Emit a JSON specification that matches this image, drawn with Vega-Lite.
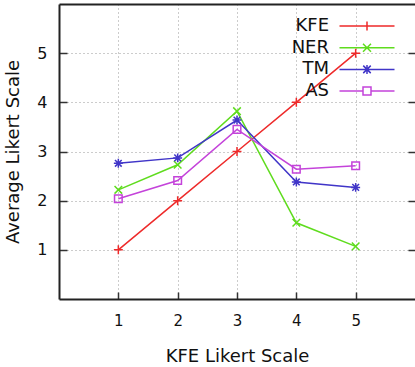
{
  "$schema": "https://vega.github.io/schema/vega-lite/v6.json",
  "width": 356,
  "height": 295,
  "autosize": {"type": "none"},
  "padding": {"left": 59, "top": 4, "right": 0, "bottom": 68},
  "background": "white",
  "config": {
    "view": {"stroke": null},
    "font": "DejaVu Sans",
    "axis": {"labelFont": "DejaVu Sans", "titleFont": "DejaVu Sans", "labelColor": "#111", "titleColor": "#111", "titleFontWeight": "normal"}
  },
  "data": {
    "values": [
      {"series": "KFE", "x": 1, "y": 1.0},
      {"series": "KFE", "x": 2, "y": 2.0},
      {"series": "KFE", "x": 3, "y": 3.0},
      {"series": "KFE", "x": 4, "y": 4.0},
      {"series": "KFE", "x": 5, "y": 5.0},
      {"series": "NER", "x": 1, "y": 2.22},
      {"series": "NER", "x": 2, "y": 2.73},
      {"series": "NER", "x": 3, "y": 3.82},
      {"series": "NER", "x": 4, "y": 1.55},
      {"series": "NER", "x": 5, "y": 1.07},
      {"series": "TM", "x": 1, "y": 2.76},
      {"series": "TM", "x": 2, "y": 2.87},
      {"series": "TM", "x": 3, "y": 3.64},
      {"series": "TM", "x": 4, "y": 2.38},
      {"series": "TM", "x": 5, "y": 2.27},
      {"series": "AS", "x": 1, "y": 2.04},
      {"series": "AS", "x": 2, "y": 2.41},
      {"series": "AS", "x": 3, "y": 3.45},
      {"series": "AS", "x": 4, "y": 2.64},
      {"series": "AS", "x": 5, "y": 2.71}
    ]
  },
  "resolve": {"axis": {"x": "independent", "y": "independent"}},
  "layer": [
    {
      "mark": {"type": "line", "strokeWidth": 1.5},
      "encoding": {
        "x": {
          "field": "x", "type": "quantitative",
          "scale": {"domain": [0, 6], "nice": false, "zero": false},
          "axis": {
            "orient": "bottom", "title": "KFE Likert Scale", "values": [1, 2, 3, 4, 5],
            "titleFontSize": 18, "titlePadding": 19,
            "labelFontSize": 15, "labelPadding": 21,
            "tickSize": -7, "tickWidth": 1.5, "tickColor": "#333",
            "domainColor": "#222", "domainWidth": 2,
            "grid": true, "gridDash": [1, 3], "gridColor": "#999", "gridWidth": 1
          }
        },
        "y": {
          "field": "y", "type": "quantitative",
          "scale": {"domain": [0, 6], "nice": false, "zero": false},
          "axis": {
            "orient": "left", "title": "Average Likert Scale", "values": [1, 2, 3, 4, 5],
            "titleFontSize": 18, "titlePadding": 14,
            "labelFontSize": 16, "labelPadding": 20,
            "tickSize": -8, "tickWidth": 1.5, "tickColor": "#333",
            "domainColor": "#222", "domainWidth": 2,
            "grid": true, "gridDash": [1, 3], "gridColor": "#999", "gridWidth": 1
          }
        },
        "color": {
          "field": "series", "type": "nominal",
          "scale": {"domain": ["KFE", "NER", "TM", "AS"], "range": ["#ee2a2a", "#5fdc1e", "#4035c8", "#c443da"]},
          "legend": {
            "title": null, "orient": "none", "legendX": 299, "legendY": 13,
            "direction": "vertical",
            "labelFont": "DejaVu Sans", "labelFontSize": 18, "labelColor": "#111",
            "labelAlign": "right", "labelOffset": -47, "labelLimit": 200,
            "symbolSize": 100, "symbolStrokeWidth": 1.5, "rowPadding": 3.7,
            "padding": 0,
            "encode": {
              "symbols": {
                "update": {
                  "fill": {"value": "transparent"},
                  "strokeWidth": {"value": 1.5},
                  "shape": {"signal": "datum.value === 'KFE' ? 'M-5.5,0L5.5,0M0,-0.9L0,0.9' : datum.value === 'NER' ? 'M-5.5,0L5.5,0M-0.8,-0.8L0.8,0.8M-0.8,0.8L0.8,-0.8' : datum.value === 'TM' ? 'M-5.5,0L5.5,0M0,-0.9L0,0.9M-0.75,-0.75L0.75,0.75M-0.75,0.75L0.75,-0.75' : 'M-5.5,0L-0.8,0M0.8,0L5.5,0M-0.8,-0.8L0.8,-0.8L0.8,0.8L-0.8,0.8Z'"}
                }
              }
            }
          }
        }
      }
    },
    {
      "transform": [{"filter": "datum.series === 'KFE'"}],
      "mark": {"type": "point", "filled": false, "strokeWidth": 1.5, "size": 80, "opacity": 1, "shape": "M-1,0L1,0M0,-1L0,1"},
      "encoding": {
        "x": {
          "field": "x", "type": "quantitative",
          "axis": {"orient": "top", "title": null, "labels": false, "ticks": false, "grid": false, "domainColor": "#222", "domainWidth": 2}
        },
        "y": {
          "field": "y", "type": "quantitative",
          "axis": {"orient": "right", "title": null, "labels": false, "domain": false, "grid": false, "values": [1, 2, 3, 4, 5], "tickSize": -7, "tickWidth": 1.5, "tickColor": "#333"}
        },
        "color": {"field": "series", "type": "nominal"}
      }
    },
    {
      "transform": [{"filter": "datum.series === 'NER'"}],
      "mark": {"type": "point", "filled": false, "strokeWidth": 1.5, "size": 80, "opacity": 1, "shape": "M-0.85,-0.85L0.85,0.85M-0.85,0.85L0.85,-0.85"},
      "encoding": {
        "x": {"field": "x", "type": "quantitative", "axis": null},
        "y": {"field": "y", "type": "quantitative", "axis": null},
        "color": {"field": "series", "type": "nominal"}
      }
    },
    {
      "transform": [{"filter": "datum.series === 'TM'"}],
      "mark": {"type": "point", "filled": false, "strokeWidth": 1.5, "size": 80, "opacity": 1, "shape": "M-1,0L1,0M0,-1L0,1M-0.75,-0.75L0.75,0.75M-0.75,0.75L0.75,-0.75"},
      "encoding": {
        "x": {"field": "x", "type": "quantitative", "axis": null},
        "y": {"field": "y", "type": "quantitative", "axis": null},
        "color": {"field": "series", "type": "nominal"}
      }
    },
    {
      "transform": [{"filter": "datum.series === 'AS'"}],
      "mark": {"type": "point", "filled": false, "strokeWidth": 1.5, "size": 80, "opacity": 1, "shape": "M-0.85,-0.85L0.85,-0.85L0.85,0.85L-0.85,0.85Z"},
      "encoding": {
        "x": {"field": "x", "type": "quantitative", "axis": null},
        "y": {"field": "y", "type": "quantitative", "axis": null},
        "color": {"field": "series", "type": "nominal"}
      }
    }
  ]
}
